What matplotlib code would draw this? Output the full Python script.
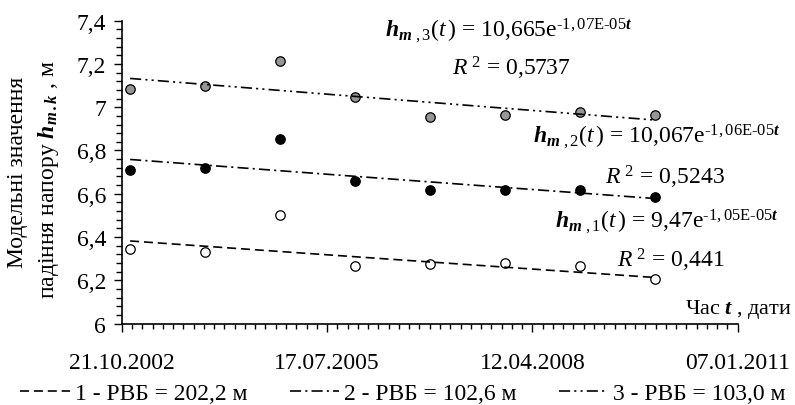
import numpy as np
import pandas as pd
import matplotlib
matplotlib.use('Agg')
import matplotlib.pyplot as plt
from matplotlib.ticker import MultipleLocator, FuncFormatter
from matplotlib.lines import Line2D

plt.rcParams['font.family'] = ['Liberation Serif', 'DejaVu Serif']
plt.rcParams['mathtext.fontset'] = 'custom'
plt.rcParams['mathtext.rm'] = 'Liberation Serif'
plt.rcParams['mathtext.it'] = 'Liberation Serif:italic'
plt.rcParams['mathtext.bf'] = 'Liberation Serif:bold'
plt.rcParams['mathtext.bfit'] = 'Liberation Serif:italic:bold'
plt.rcParams['lines.scale_dashes'] = False

# дані
dates = ['01.12.2002', '01.12.2003', '01.12.2004', '01.12.2005',
         '01.12.2006', '01.12.2007', '01.12.2008', '01.12.2009']
h1 = [6.346, 6.331, 6.500, 6.268, 6.274, 6.281, 6.264, 6.206]
h2 = [6.712, 6.719, 6.853, 6.660, 6.619, 6.619, 6.615, 6.585]
h3 = [7.085, 7.097, 7.213, 7.048, 6.957, 6.962, 6.977, 6.965]

# коефіцієнти експоненційних трендів h = a*exp(b*t), t - дата Excel
trend_a = [9.47, 10.067, 10.665]
trend_b = [-1.05e-05, -1.06e-05, -1.07e-05]
trend_a_txt = ['9,47', '10,067', '10,665']
trend_b_txt = ['-1,05E-05', '-1,06E-05', '-1,07E-05']
r2_txt = ['0,441', '0,5243', '0,5737']

legend_labels = ['1 - РВБ = 202,2 м', '2 - РВБ = 102,6 м', '3 - РВБ = 103,0 м']
xtick_labels = ['21.10.2002', '17.07.2005', '12.04.2008', '07.01.2011']

origin = pd.Timestamp('1899-12-30')
def serial(s):
    return (pd.to_datetime(s, dayfirst=True) - origin).days

t = np.array([serial(d) for d in dates], dtype=float)
xt = [serial(d) for d in xtick_labels]

W, H = 795, 406
fig = plt.figure(figsize=(W / 100, H / 100), dpi=100)
ax = fig.add_axes([121.7 / W, 1 - 324.5 / H, (737.7 - 121.7) / W, (324.5 - 21.7) / H])

styles = [(6.5, 3.5), (8, 3, 1.5, 3), (8, 3, 1.5, 3, 1.5, 3)]
faces = ['white', 'black', '#969696']
series = [h1, h2, h3]

for k in range(3):
    ax.plot(t, series[k], 'o', ms=6.8, mfc=faces[k], mec='black', mew=0.9,
            zorder=3, clip_on=False)
    trend = trend_a[k] * np.exp(trend_b[k] * t)
    ax.plot(t, trend, color='black', lw=1.2, dashes=styles[k], zorder=4)

ax.set_xlim(xt[0], xt[-1])
ax.set_ylim(6, 7.4)
ax.set_xticks(xt)
ax.set_xticklabels(xtick_labels)
ax.xaxis.set_minor_locator(MultipleLocator(50))
ax.yaxis.set_major_locator(MultipleLocator(0.2))
ax.yaxis.set_minor_locator(MultipleLocator(0.04))
ax.yaxis.set_major_formatter(FuncFormatter(lambda v, p: ('%g' % round(v, 2)).replace('.', ',')))

for s in ['top', 'right']:
    ax.spines[s].set_visible(False)
for s in ['left', 'bottom']:
    ax.spines[s].set_linewidth(1.2)

ax.tick_params(axis='both', which='both', direction='out', width=1.0, labelsize=17)
ax.tick_params(axis='x', which='major', length=5.5, pad=15)
ax.tick_params(axis='x', which='minor', length=3.6)
ax.tick_params(axis='y', which='major', length=5.8, pad=5.5)
ax.tick_params(axis='y', which='minor', length=4.3)

# підписи осей
fig.text(18 / W, 1 - 172 / H, 'Модельні значення', rotation=90,
         ha='center', va='center', fontsize=17)
fig.text(49 / W, 1 - 180 / H,
         r'падіння напору $\mathbfit{h}_{\mathbfit{m}\,\mathbfit{.k}}$ , м',
         rotation=90, ha='center', va='center', fontsize=17)
fig.text(792 / W, 1 - 314 / H, r'Час $\mathbfit{t}$ , дати', ha='right',
         va='baseline', fontsize=16)

# рівняння трендів
eq_pos = [(555, 228), (533, 143), (385, 37)]
r2_pos = [(617, 267), (605, 185), (452, 76)]
for k in range(3):
    x0, y0 = eq_pos[k]
    expo = r'\mathrm{%s}' % trend_b_txt[k].replace('-', r'\text{-}')
    fig.text(x0 / W, 1 - y0 / H,
             r'$\mathbfit{h}_{\mathbfit{m}\ ,%d}(\mathit{t}\,)$ = %se$^{%s\mathbfit{t}}$'
             % (k + 1, trend_a_txt[k], expo),
             ha='left', va='baseline', fontsize=17)
    x0, y0 = r2_pos[k]
    fig.text(x0 / W, 1 - y0 / H, r'$\mathit{R}^{\ 2}$ = %s' % r2_txt[k],
             ha='left', va='baseline', fontsize=17)

handles = [Line2D([], [], color='black', lw=1.2, dashes=styles[k]) for k in range(3)]
fig.legend(handles, legend_labels, loc='center', bbox_to_anchor=(403 / W, 1 - 394 / H),
           ncol=3, frameon=False, fontsize=17, handlelength=2.1, handletextpad=0.2,
           columnspacing=1.8, borderaxespad=0, borderpad=0)

fig.savefig('out.png', dpi=100)
